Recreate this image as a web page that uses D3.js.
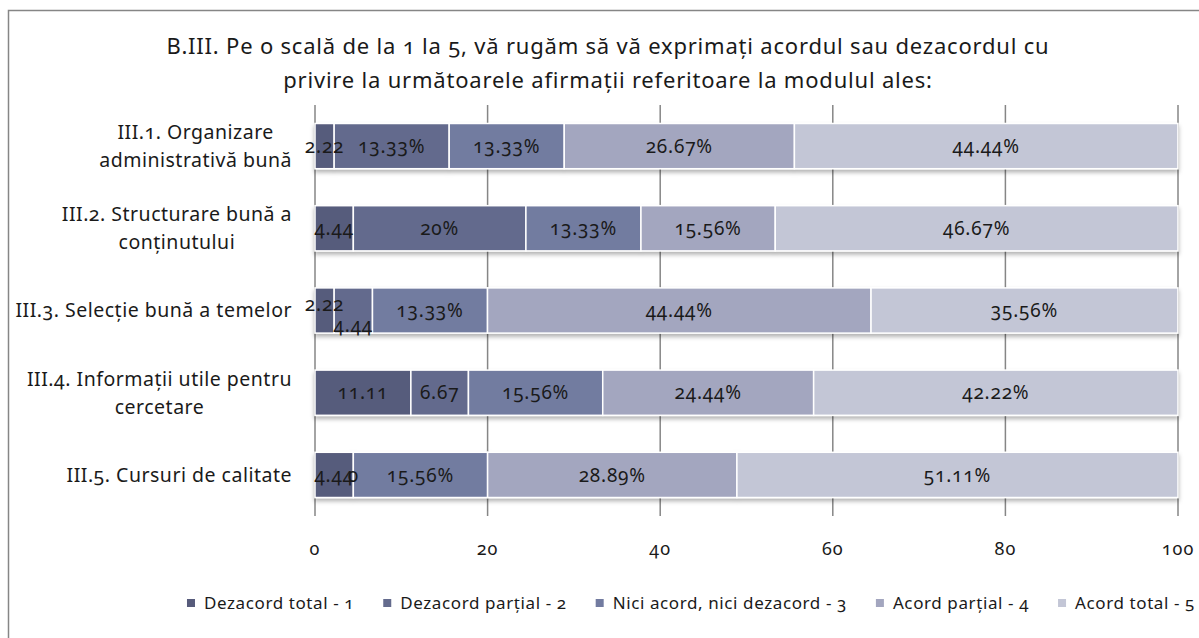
<!DOCTYPE html>
<html lang="ro">
<head>
<meta charset="UTF-8">
<title>B.III chart</title>
<script src="https://d3js.org/d3.v7.min.js"></script>
<style>
    body { margin: 0; background: #fff; }
    svg text { font-family: "Noto Sans", "Open Sans", sans-serif; fill: #1a1a1a; font-variant-numeric: oldstyle-nums; }
</style>
</head>
<body>
<div id="chart"></div>
<script>
    // categories (top to bottom), each as label lines
    const categories = ["III.1", "III.2", "III.3", "III.4", "III.5"];
    const categoryLines = [
        ["III.1. Organizare", "administrativă bună"],
        ["III.2. Structurare bună a", "conținutului"],
        ["III.3. Selecție bună a temelor"],
        ["III.4. Informații utile pentru", "cercetare"],
        ["III.5. Cursuri de calitate"]
    ];
    const seriesNames = ["Dezacord total - 1", "Dezacord parțial - 2", "Nici acord, nici dezacord - 3", "Acord parțial - 4", "Acord total - 5"];

    // values per series, one per category
    const dezacordTotal   = [2.22, 4.44, 2.22, 11.11, 4.44];
    const dezacordPartial = [13.33, 20, 4.44, 6.67, 0];
    const niciAcord       = [13.33, 13.33, 13.33, 15.56, 15.56];
    const acordPartial    = [26.67, 15.56, 44.44, 24.44, 28.89];
    const acordTotal      = [44.44, 46.67, 35.56, 42.22, 51.11];

    // data labels as shown in the chart
    const labelsTotal   = ["2.22", "4.44", "2.22", "11.11", "4.44"];
    const labelsPartial = ["13.33%", "20%", "4.44", "6.67", "0"];
    const labelsNici    = ["13.33%", "13.33%", "13.33%", "15.56%", "15.56%"];
    const labelsAcordP  = ["26.67%", "15.56%", "44.44%", "24.44%", "28.89%"];
    const labelsAcordT  = ["44.44%", "46.67%", "35.56%", "42.22%", "51.11%"];

    const xTicks = [0, 20, 40, 60, 80, 100];

    const colors = ["#575b7b", "#646b8d", "#727ba0", "#a3a6bf", "#c3c6d6"];

    const allValues = [dezacordTotal, dezacordPartial, niciAcord, acordPartial, acordTotal];
    const allLabels = [labelsTotal, labelsPartial, labelsNici, labelsAcordP, labelsAcordT];

    const W = 1199, H = 638;
    const plot = { left: 315, right: 1178, top: 105, bottom: 516 };

    const svg = d3.select("#chart").append("svg")
        .attr("width", W).attr("height", H);

    const defs = svg.append("defs");
    const f = defs.append("filter").attr("id", "shadow")
        .attr("x", "-5%").attr("y", "-20%").attr("width", "110%").attr("height", "150%");
    f.append("feDropShadow").attr("dx", 0).attr("dy", 3).attr("stdDeviation", 2)
        .attr("flood-color", "#000").attr("flood-opacity", 0.3);

    // chart border
    svg.append("rect").attr("x", 8.5).attr("y", 10.5).attr("width", W).attr("height", H)
        .attr("fill", "#fff").attr("stroke", "#868686").attr("stroke-width", 1.5);

    // title
    const title = svg.append("text").attr("text-anchor", "middle")
        .style("font-size", "22px").style("letter-spacing", "0.8px");
    title.append("tspan").attr("x", 608).attr("y", 54)
        .text("B.III. Pe o scală de la 1 la 5, vă rugăm să vă exprimați acordul sau dezacordul cu");
    title.append("tspan").attr("x", 608).attr("y", 88)
        .text("privire la următoarele afirmații referitoare la modulul ales:");

    const x = d3.scaleLinear().domain([0, 100]).range([plot.left, plot.right]);
    const y = d3.scaleBand().domain(categories).range([plot.top, plot.bottom]).paddingInner(0.45).paddingOuter(0.225);

    // gridlines
    svg.append("g").selectAll("line").data(xTicks).join("line")
        .attr("x1", d => x(d)).attr("x2", d => x(d))
        .attr("y1", plot.top).attr("y2", plot.bottom)
        .attr("stroke", "#868686").attr("stroke-width", 1.5);

    // stacked data
    const rows = categories.map((c, i) => {
        const o = { cat: c };
        seriesNames.forEach((s, j) => o[s] = allValues[j][i]);
        return o;
    });
    const stacked = d3.stack().keys(seriesNames)(rows);

    const bars = svg.append("g").attr("filter", "url(#shadow)");
    stacked.forEach((layer, j) => {
        bars.selectAll(null).data(layer).join("rect")
            .attr("x", d => x(d[0]))
            .attr("y", d => y(d.data.cat))
            .attr("width", d => x(d[1]) - x(d[0]))
            .attr("height", y.bandwidth())
            .attr("fill", colors[j])
            .attr("stroke", "#fff").attr("stroke-width", 1.5);
    });

    // data labels
    const labelG = svg.append("g");
    stacked.forEach((layer, j) => {
        labelG.selectAll(null).data(layer).join("text")
            .attr("text-anchor", "middle")
            .attr("x", d => x((d[0] + d[1]) / 2))
            .attr("y", (d, i) => {
                let cy = y(d.data.cat) + y.bandwidth() / 2;
                if (i === 2 && j === 0) cy -= 6;
                if (i === 2 && j === 1) cy += 15;
                return cy;
            })
            .attr("dy", "0.35em")
            .style("font-size", "19px").style("letter-spacing", "0.8px")
            .text((d, i) => allLabels[j][i]);
    });

    // category labels
    categoryLines.forEach((lines, i) => {
        const cy = y(categories[i]) + y.bandwidth() / 2;
        const lh = 28;
        const t = svg.append("text").attr("text-anchor", "middle")
            .style("font-size", "19.5px").style("letter-spacing", "0.5px");
        const spans = lines.map((l, k) => t.append("tspan")
            .attr("y", cy + (k - (lines.length - 1) / 2) * lh)
            .attr("dy", "0.35em").text(l));
        let maxW = 0;
        spans.forEach(s => maxW = Math.max(maxW, s.node().getComputedTextLength()));
        spans.forEach(s => s.attr("x", 292 - maxW / 2));
    });

    // x tick labels
    svg.append("g").selectAll("text").data(xTicks).join("text")
        .attr("x", d => x(d)).attr("y", 549).attr("dy", "0.35em")
        .attr("text-anchor", "middle").style("font-size", "18px").style("letter-spacing", "1px")
        .text(d => d);

    // legend
    const legend = svg.append("g");
    const items = seriesNames.map((s, j) => {
        const g = legend.append("g");
        g.append("rect").attr("width", 8).attr("height", 8).attr("y", -4).attr("fill", colors[j]);
        const t = g.append("text").attr("x", 17).attr("dy", "0.35em")
            .style("font-size", "17px").style("letter-spacing", "0.6px").text(s);
        return { g, w: 17 + t.node().getComputedTextLength() };
    });
    const gap = 29;
    const total = d3.sum(items, d => d.w) + gap * (items.length - 1);
    let lx = 691 - total / 2;
    items.forEach(it => {
        it.g.attr("transform", `translate(${lx},603)`);
        lx += it.w + gap;
    });
</script>
</body>
</html>
